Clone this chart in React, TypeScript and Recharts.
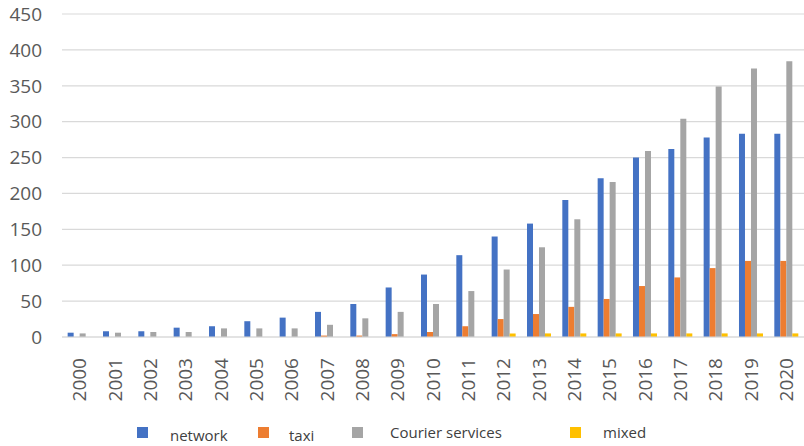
import React from "react";
import { BarChart, Bar, XAxis, YAxis, CartesianGrid, Legend } from "recharts";

// ── Data ───────────────────────────────────────────────────────────────────
const years = [
  "2000", "2001", "2002", "2003", "2004", "2005", "2006", "2007", "2008", "2009", "2010",
  "2011", "2012", "2013", "2014", "2015", "2016", "2017", "2018", "2019", "2020",
];
const network = [6, 8, 8, 13, 15, 22, 27, 35, 46, 69, 87, 114, 140, 158, 191, 221, 250, 262, 278, 283, 283];
const taxi = [0, 0, 0, 0, 0, 0, 0, 2, 2, 4, 7, 15, 25, 32, 42, 53, 71, 83, 96, 106, 106];
const courier = [5, 6, 7, 7, 12, 12, 12, 17, 26, 35, 46, 64, 94, 125, 164, 216, 259, 304, 349, 374, 384];
const mixed = [0, 0, 0, 0, 0, 0, 0, 0, 0, 0, 0, 0, 5, 5, 5, 5, 5, 5, 5, 5, 5];
const yTicks = [0, 50, 100, 150, 200, 250, 300, 350, 400, 450];

const data = years.map((year, i) => ({
  year,
  network: network[i],
  taxi: taxi[i],
  courier: courier[i],
  mixed: mixed[i],
}));

// ── Style tokens ───────────────────────────────────────────────────────────
const BLUE = "#4472C4";
const ORANGE = "#ED7D31";
const GRAY = "#A5A5A5";
const YELLOW = "#FFC000";
const GRID = "#d9d9d9";
const TEXT = "#595959";
const FONT = "'Open Sans', 'Noto Sans', sans-serif";

const YearTick = (props: any) => {
  const { x, y, payload } = props;
  return (
    <text
      x={x}
      y={y}
      transform={`rotate(-90, ${x}, ${y})`}
      dx={-13}
      dy="0.36em"
      textAnchor="end"
      fill={TEXT}
      fontSize={19}
      fontFamily={FONT}
    >
      {payload.value}
    </text>
  );
};

// legend items sit at uneven positions in the original
const legendItems = [
  { label: "network", color: BLUE, sq: 137, tx: 170, ty: 439 },
  { label: "taxi", color: ORANGE, sq: 258, tx: 289, ty: 439 },
  { label: "Courier services", color: GRAY, sq: 352, tx: 390, ty: 436 },
  { label: "mixed", color: YELLOW, sq: 570, tx: 603, ty: 436 },
];

const LEGEND_TOP = 399;

const CustomLegend = () => (
  <div style={{ position: "relative", width: 804, height: 47, fontFamily: FONT }}>
    {legendItems.map((it) => (
      <React.Fragment key={it.label}>
        <div
          style={{
            position: "absolute",
            left: it.sq,
            top: 427 - LEGEND_TOP,
            width: 11,
            height: 11,
            background: it.color,
          }}
        />
        <div
          style={{
            position: "absolute",
            left: it.tx,
            top: it.ty - LEGEND_TOP - 12,
            fontSize: 15,
            lineHeight: "16px",
            color: "#404040",
            whiteSpace: "nowrap",
          }}
        >
          {it.label}
        </div>
      </React.Fragment>
    ))}
  </div>
);

// ── Chart ──────────────────────────────────────────────────────────────────
export default function App() {
  return (
    <div style={{ position: "absolute", left: 0, top: 0, width: 804, height: 446, background: "#fff" }}>
      <BarChart
        width={804}
        height={446}
        data={data}
        margin={{ top: 14, right: 0, left: 0, bottom: 0 }}
        barCategoryGap="16%"
        barGap={0}
      >
        <CartesianGrid vertical={false} stroke={GRID} strokeWidth={1.2} />
        <XAxis
          dataKey="year"
          interval={0}
          height={62}
          tickLine={false}
          axisLine={{ stroke: GRID, strokeWidth: 1.2 }}
          tick={<YearTick />}
        />
        <YAxis
          width={62}
          domain={[0, 450]}
          ticks={yTicks}
          interval={0}
          axisLine={false}
          tickLine={false}
          tickSize={0}
          tickMargin={20}
          tick={{ fill: TEXT, fontSize: 19, fontFamily: FONT }}
        />
        <Legend verticalAlign="bottom" height={47} content={<CustomLegend />} />
        <Bar dataKey="network" name="network" fill={BLUE} isAnimationActive={false} />
        <Bar dataKey="taxi" name="taxi" fill={ORANGE} isAnimationActive={false} />
        <Bar dataKey="courier" name="Courier services" fill={GRAY} isAnimationActive={false} />
        <Bar dataKey="mixed" name="mixed" fill={YELLOW} isAnimationActive={false} />
      </BarChart>
    </div>
  );
}
